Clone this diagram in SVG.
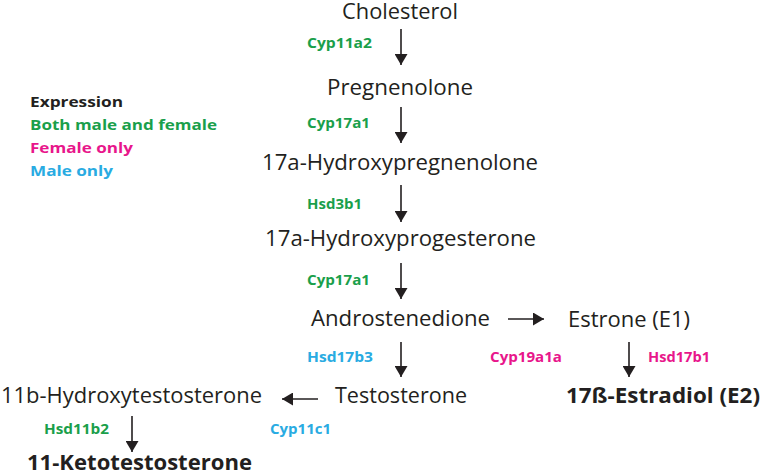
<svg xmlns="http://www.w3.org/2000/svg" width="764" height="474" viewBox="0 0 764 474">
<style>
.m{font-family:"Open Sans","Liberation Sans",sans-serif;font-size:21px;fill:#231f20}
.b{font-family:"Open Sans","Liberation Sans",sans-serif;font-size:22px;font-weight:bold;fill:#231f20}
.e{font-family:"Open Sans","Liberation Sans",sans-serif;font-size:13.5px;font-weight:bold}
.l{font-family:"Open Sans","Liberation Sans",sans-serif;font-size:15px;font-weight:bold}
.g{fill:#1a9f4b}.p{fill:#e8168b}.c{fill:#29abe2}.k{fill:#231f20}
.a{stroke:#231f20;stroke-width:1.6;fill:none;marker-end:url(#ah)}
</style>
<defs>
<marker id="ah" markerUnits="userSpaceOnUse" markerWidth="11" markerHeight="13" viewBox="0 0 11 13" refX="11" refY="6.5" orient="auto">
<path d="M0,0 L11,6.5 L0,13 Z" fill="#231f20"/>
</marker>
</defs>
<g id="legend">
<text class="l k" x="30" y="107" textLength="93" lengthAdjust="spacingAndGlyphs">Expression</text>
<text class="l g" x="30" y="130" textLength="187" lengthAdjust="spacingAndGlyphs">Both male and female</text>
<text class="l p" x="30" y="153" textLength="103" lengthAdjust="spacingAndGlyphs">Female only</text>
<text class="l c" x="30" y="176" textLength="83" lengthAdjust="spacingAndGlyphs">Male only</text>
</g>
<g id="cholesterol"><text class="m" x="342" y="19" font-size="20" textLength="116" lengthAdjust="spacingAndGlyphs">Cholesterol</text></g>
<g id="pregnenolone"><text class="m" x="327" y="95" textLength="146" lengthAdjust="spacingAndGlyphs">Pregnenolone</text></g>
<g id="hydroxypregnenolone"><text class="m" x="262" y="170" textLength="276" lengthAdjust="spacingAndGlyphs">17a-Hydroxypregnenolone</text></g>
<g id="hydroxyprogesterone"><text class="m" x="265" y="246" textLength="271" lengthAdjust="spacingAndGlyphs">17a-Hydroxyprogesterone</text></g>
<g id="androstenedione"><text class="m" x="311" y="326" textLength="179" lengthAdjust="spacingAndGlyphs">Androstenedione</text></g>
<g id="estrone"><text class="m" x="568" y="327" textLength="122" lengthAdjust="spacingAndGlyphs">Estrone (E1)</text></g>
<g id="testosterone"><text class="m" x="335" y="403" textLength="132" lengthAdjust="spacingAndGlyphs">Testosterone</text></g>
<g id="hydroxytestosterone"><text class="m" x="1" y="403" textLength="261" lengthAdjust="spacingAndGlyphs">11b-Hydroxytestosterone</text></g>
<g id="estradiol"><text class="b" x="566" y="403" textLength="194" lengthAdjust="spacingAndGlyphs">17ß-Estradiol (E2)</text></g>
<g id="ketotestosterone"><text class="b" x="27" y="470" textLength="225" lengthAdjust="spacingAndGlyphs">11-Ketotestosterone</text></g>
<g id="enzymes">
<text class="e g" x="307" y="48" textLength="65" lengthAdjust="spacingAndGlyphs">Cyp11a2</text>
<text class="e g" x="307" y="128" textLength="63" lengthAdjust="spacingAndGlyphs">Cyp17a1</text>
<text class="e g" x="307" y="209" textLength="55" lengthAdjust="spacingAndGlyphs">Hsd3b1</text>
<text class="e g" x="307" y="285" textLength="63" lengthAdjust="spacingAndGlyphs">Cyp17a1</text>
<text class="e c" x="307" y="362" textLength="66" lengthAdjust="spacingAndGlyphs">Hsd17b3</text>
<text class="e p" x="490" y="362" textLength="72" lengthAdjust="spacingAndGlyphs">Cyp19a1a</text>
<text class="e p" x="648" y="362" textLength="62" lengthAdjust="spacingAndGlyphs">Hsd17b1</text>
<text class="e c" x="270" y="434" textLength="61" lengthAdjust="spacingAndGlyphs">Cyp11c1</text>
<text class="e g" x="44" y="434" textLength="65" lengthAdjust="spacingAndGlyphs">Hsd11b2</text>
</g>
<g id="connectors">
<line class="a" x1="401" y1="29" x2="401" y2="65"/>
<line class="a" x1="401" y1="107" x2="401" y2="143"/>
<line class="a" x1="401" y1="185" x2="401" y2="222"/>
<line class="a" x1="401" y1="263" x2="401" y2="299"/>
<line class="a" x1="401" y1="342" x2="401" y2="377"/>
<line class="a" x1="508" y1="319" x2="544" y2="319"/>
<line class="a" x1="629" y1="342" x2="629" y2="377"/>
<line class="a" x1="318" y1="399" x2="282" y2="399"/>
<line class="a" x1="132" y1="416" x2="132" y2="452"/>
</g>
</svg>
